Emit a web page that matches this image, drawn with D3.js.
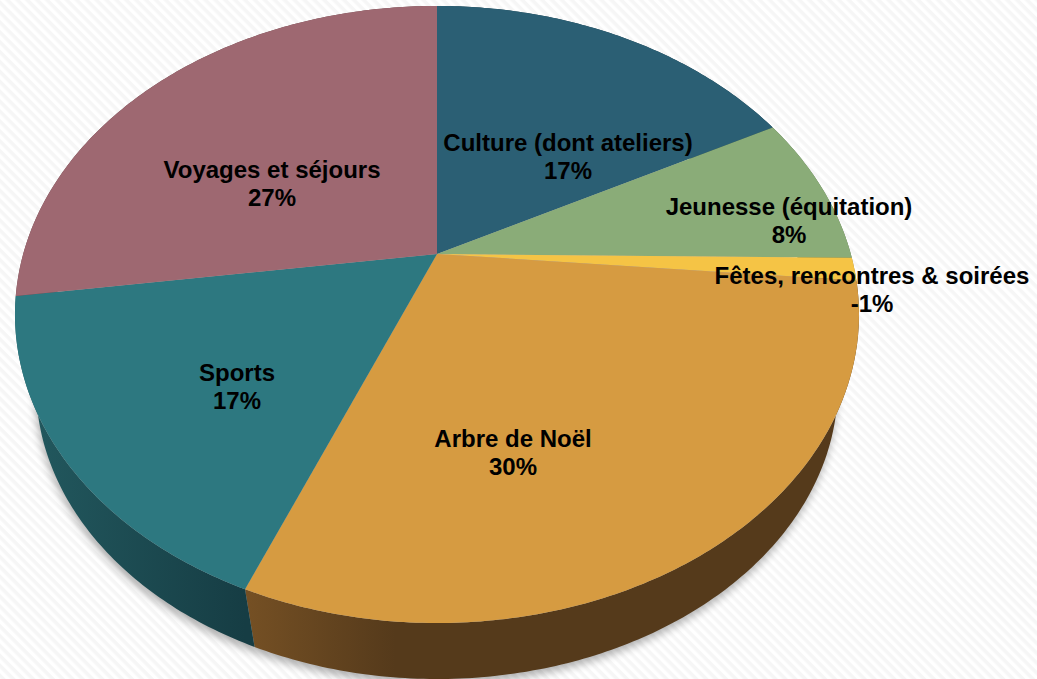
<!DOCTYPE html>
<html><head><meta charset="utf-8">
<script src="https://cdn.jsdelivr.net/npm/d3@7"></script>
<style>html,body{margin:0;padding:0;background:#fff;overflow:hidden}svg{display:block}
text{font-family:"Liberation Sans",Arial,sans-serif;font-weight:bold;font-size:24px;fill:#000;text-anchor:middle}</style>
</head><body><svg id="c" width="1037" height="679"></svg>
<script>
const categories=["Culture (dont ateliers)","Jeunesse (équitation)","Fêtes, rencontres & soirées","Arbre de Noël","Sports","Voyages et séjours"];
const sliceValues=[17.3,7.9,1.2,29.8,16.6,27.2];
const percentLabels=["17%","8%","-1%","30%","17%","27%"];
const sliceColors=["#2b5f74","#8aac78","#f5c445","#d69b41","#2d7880","#9e6871"];
const wallDark=["#1c3f4d","#5c7350","#a3812c","#553a1b","#163d44","#694549"];
const wallLight=["#1c3f4d","#5c7350","#a3812c","#755024","#235a60","#694549"];
const labelCentres=[[568,156.5],[789,221],[872,290],[513,453],[237,386.5],[272,183.5]];

const W=1037,H=679,cx=437,cy=254,a=413.8,b=296.7,k=0.196;
const shrink=0.95,vanishX=436,vanishY=1743;
const proj=(t,r=1)=>{const u=r*Math.sin(t),v=-r*Math.cos(t),d=1-k*v;return [cx+a*u/d,cy+b*v/d];};
const lower=p=>[vanishX+shrink*(p[0]-vanishX),vanishY+shrink*(p[1]-vanishY)];
const svg=d3.select("#c");
const defs=svg.append("defs");
const pat=defs.append("pattern").attr("id","stripes").attr("width",7).attr("height",7)
 .attr("patternUnits","userSpaceOnUse").attr("patternTransform","rotate(45)");
pat.append("rect").attr("width",7).attr("height",7).attr("fill","#ffffff");
pat.append("rect").attr("width",7).attr("height",3.5).attr("fill","#f6f6f6");
svg.append("rect").attr("width",W).attr("height",H).attr("fill","url(#stripes)");
const blur=defs.append("filter").attr("id","sh").attr("x","-10%").attr("y","-10%").attr("width","120%").attr("height","120%");
blur.append("feGaussianBlur").attr("stdDeviation",4.5);

const pie=d3.pie().value(d=>d).sort(null);
const arcs=pie(sliceValues);
const line=d3.line();
const samples=(s,e)=>{const n=Math.max(2,Math.ceil((e-s)*80));return d3.range(n+1).map(i=>s+(e-s)*i/n);};
const full=samples(0,2*Math.PI).map(t=>proj(t));

// shadow under the disc
svg.append("path").attr("d",line(full.map(lower).map(p=>[p[0]-1,p[1]+5]))+"Z")
  .attr("fill","#000").attr("opacity",.3).attr("filter","url(#sh)");

// side wall
arcs.forEach((d,i)=>{
  const top=samples(d.startAngle,d.endAngle).map(t=>proj(t));
  const poly=top.concat(top.slice().reverse().map(lower));
  const xs=top.map(p=>p[0]);
  const id="wall"+i;
  const g=defs.append("linearGradient").attr("id",id).attr("gradientUnits","userSpaceOnUse")
    .attr("x1",d3.min(xs)).attr("x2",d3.min(xs)+(i===3?150:Math.max(1,d3.max(xs)-d3.min(xs)))).attr("y1",0).attr("y2",0);
  g.append("stop").attr("offset",0).attr("stop-color",wallLight[i]);
  g.append("stop").attr("offset",1).attr("stop-color",wallDark[i]);
  svg.append("path").attr("d",line(poly)+"Z").attr("fill",`url(#${id})`);
});

// top slices
svg.append("g").selectAll("path").data(arcs).join("path")
  .attr("d",d=>line([[cx,cy]].concat(samples(d.startAngle,d.endAngle).map(t=>proj(t))))+"Z")
  .attr("fill",(d,i)=>sliceColors[i]);

// labels
const lab=svg.append("g").selectAll("text").data(categories).join("text")
  .attr("transform",(d,i)=>`translate(${labelCentres[i][0]},${labelCentres[i][1]})`);
lab.append("tspan").attr("x",0).attr("y",-6).text(d=>d);
lab.append("tspan").attr("x",0).attr("y",22).text((d,i)=>percentLabels[i]);
</script></body></html>
